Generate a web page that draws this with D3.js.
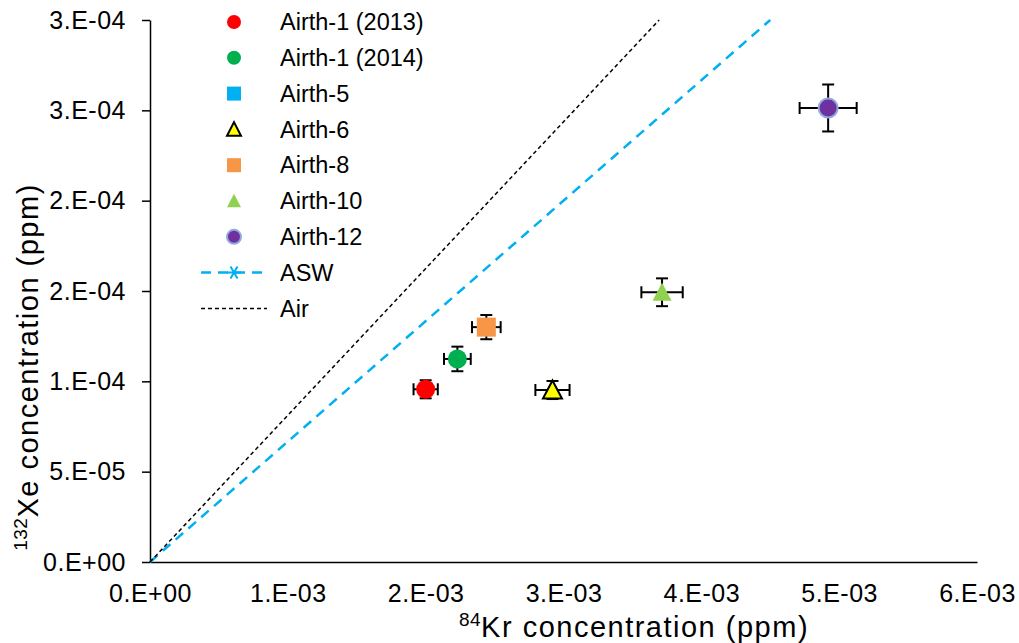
<!DOCTYPE html>
<html lang="en">
  <head>
    <meta charset="UTF-8" />
    <title>Kr vs Xe</title>
    <script src="https://d3js.org/d3.v7.min.js"></script>
    <style>
      body { margin: 0; background: #fff; }
      text { font-family: "Liberation Sans", Arial, sans-serif; }
    </style>
  </head>
  <body>
    <div id="chart"></div>
  </body>
</html>

<script>
  // samples
  const samples = ["Airth-1 (2013)", "Airth-1 (2014)", "Airth-5", "Airth-6", "Airth-8", "Airth-10", "Airth-12"]
  const krValues = [2.0e-3, 2.23e-3, null, 2.92e-3, 2.44e-3, 3.715e-3, 4.92e-3]
  const xeValues = [9.56e-5, 1.124e-4, null, 9.52e-5, 1.3e-4, 1.493e-4, 2.513e-4]
  const krErrors = [8.8e-5, 9.7e-5, null, 1.24e-4, 1.04e-4, 1.5e-4, 2.07e-4]
  const xeErrors = [5e-6, 6.8e-6, null, 5e-6, 6.7e-6, 7.7e-6, 1.3e-5]
  const markerShapes = ["circle", "circle", "square", "triangle", "square", "triangle", "circle"]
  const markerFills = ["#FF0000", "#00B050", "#00B0F0", "#FFFF00", "#F79646", "#92D050", "#7030A0"]
  const markerStrokes = ["none", "none", "none", "#000", "none", "none", "#8FAADC"]

  // reference lines
  const aswKr = [0, 4.5e-3]
  const aswXe = [0, 3e-4]
  const airKr = [0, 3.694e-3]
  const airXe = [0, 3e-4]

  // ticks
  const xTicks = [0, 1e-3, 2e-3, 3e-3, 4e-3, 5e-3, 6e-3]
  const xTickLabels = ["0.E+00", "1.E-03", "2.E-03", "3.E-03", "4.E-03", "5.E-03", "6.E-03"]
  const yTicks = [0, 5e-5, 1e-4, 1.5e-4, 2e-4, 2.5e-4, 3e-4]
  const yTickLabels = ["0.E+00", "5.E-05", "1.E-04", "2.E-04", "2.E-04", "3.E-04", "3.E-04"]

  const width = 1019
  const height = 643

  const svg = d3
    .select("#chart")
    .append("svg")
    .attr("width", width)
    .attr("height", height)

  const x = d3.scaleLinear().domain([0, 6e-3]).range([150, 977])
  const y = d3.scaleLinear().domain([0, 3e-4]).range([562, 20])

  // axes
  const xAxis = svg
    .append("g")
    .attr("transform", `translate(0,${y(0)})`)
    .call(
      d3.axisBottom(x)
        .tickValues(xTicks)
        .tickSize(0)
        .tickPadding(22)
        .tickFormat((d, i) => xTickLabels[i])
    )
  xAxis.select(".domain").attr("stroke", "#000").attr("stroke-width", 1.5)
  xAxis.selectAll("text").attr("font-size", 25).attr("letter-spacing", 0.5).attr("fill", "#000")

  const yAxis = svg
    .append("g")
    .attr("transform", `translate(${x(0)},0)`)
    .call(
      d3.axisLeft(y)
        .tickValues(yTicks)
        .tickSizeInner(8)
        .tickSizeOuter(0)
        .tickPadding(16)
        .tickFormat((d, i) => yTickLabels[i])
    )
  yAxis.select(".domain").attr("stroke", "#000").attr("stroke-width", 1.5)
  yAxis.selectAll(".tick line").attr("stroke", "#000").attr("stroke-width", 1.5)
  yAxis.selectAll("text").attr("font-size", 25).attr("letter-spacing", 0.5).attr("fill", "#000")

  // axis titles
  const xTitle = svg
    .append("text")
    .attr("x", 634)
    .attr("y", 637)
    .attr("text-anchor", "middle")
    .attr("font-size", 29)
    .attr("letter-spacing", 1.5)
  xTitle.append("tspan").attr("font-size", 19).attr("letter-spacing", 0.5).attr("dy", -11).text("84")
  xTitle.append("tspan").attr("dy", 11).text("Kr concentration (ppm)")

  const yTitle = svg
    .append("text")
    .attr("transform", "translate(38,367) rotate(-90)")
    .attr("text-anchor", "middle")
    .attr("font-size", 29)
    .attr("letter-spacing", 1.5)
  yTitle.append("tspan").attr("font-size", 19).attr("letter-spacing", 0.5).attr("dy", -11).text("132")
  yTitle.append("tspan").attr("dy", 11).text("Xe concentration (ppm)")

  // reference lines
  const line = d3.line().x((d) => x(d[0])).y((d) => y(d[1]))

  svg
    .append("path")
    .datum(d3.zip(aswKr, aswXe))
    .attr("d", line)
    .attr("fill", "none")
    .attr("stroke", "#00B0F0")
    .attr("stroke-width", 2.5)
    .attr("stroke-dasharray", "10,7")

  svg
    .append("path")
    .datum(d3.zip(airKr, airXe))
    .attr("d", line)
    .attr("fill", "none")
    .attr("stroke", "#000")
    .attr("stroke-width", 1.5)
    .attr("stroke-dasharray", "4,3")

  function marker(g, shape, size, fill, stroke) {
    if (shape === "circle") {
      g.append("circle").attr("r", size / 2)
    } else if (shape === "square") {
      g.append("rect").attr("x", -size / 2).attr("y", -size / 2).attr("width", size).attr("height", size)
    } else {
      const h = size * 0.9
      g.append("path").attr("d", `M0,${-h / 2 - 1}L${size / 2},${h / 2}L${-size / 2},${h / 2}Z`)
    }
    g.select(":first-child")
      .attr("fill", fill)
      .attr("stroke", stroke)
      .attr("stroke-width", stroke === "none" ? 0 : 2)
  }

  // data points with error bars
  const points = samples
    .map((s, i) => ({ i, kr: krValues[i], xe: xeValues[i], ekr: krErrors[i], exe: xeErrors[i] }))
    .filter((d) => d.kr !== null)

  const cap = 6
  const bars = svg.append("g").attr("stroke", "#000").attr("stroke-width", 2)
  points.forEach((d) => {
    const cx = x(d.kr), cy = y(d.xe)
    const x0 = x(d.kr - d.ekr), x1 = x(d.kr + d.ekr)
    const y0 = y(d.xe - d.exe), y1 = y(d.xe + d.exe)
    bars.append("line").attr("x1", x0).attr("x2", x1).attr("y1", cy).attr("y2", cy)
    bars.append("line").attr("x1", x0).attr("x2", x0).attr("y1", cy - cap).attr("y2", cy + cap)
    bars.append("line").attr("x1", x1).attr("x2", x1).attr("y1", cy - cap).attr("y2", cy + cap)
    bars.append("line").attr("x1", cx).attr("x2", cx).attr("y1", y0).attr("y2", y1)
    bars.append("line").attr("x1", cx - cap).attr("x2", cx + cap).attr("y1", y0).attr("y2", y0)
    bars.append("line").attr("x1", cx - cap).attr("x2", cx + cap).attr("y1", y1).attr("y2", y1)
  })

  points.forEach((d) => {
    const g = svg.append("g").attr("transform", `translate(${x(d.kr)},${y(d.xe)})`)
    marker(g, markerShapes[d.i], 19, markerFills[d.i], markerStrokes[d.i])
  })

  // legend
  const legend = svg.append("g")
  const rowH = 35.8
  samples.forEach((s, i) => {
    const row = legend.append("g").attr("transform", `translate(234,${22 + i * rowH})`)
    marker(row.append("g"), markerShapes[i], 14, markerFills[i], markerStrokes[i])
    row.append("text").attr("x", 46).attr("dy", "0.35em").attr("font-size", 23.5).text(s)
  })

  const aswRow = legend.append("g").attr("transform", `translate(234,${22 + 7 * rowH})`)
  aswRow.append("line").attr("x1", -33).attr("x2", 33)
    .attr("stroke", "#00B0F0").attr("stroke-width", 2.5).attr("stroke-dasharray", "10,7")
  aswRow.append("path")
    .attr("d", "M-7,0H7M-3.5,-6L3.5,6M-3.5,6L3.5,-6")
    .attr("stroke", "#00B0F0").attr("stroke-width", 2)
  aswRow.append("text").attr("x", 46).attr("dy", "0.35em").attr("font-size", 23.5).text("ASW")

  const airRow = legend.append("g").attr("transform", `translate(234,${22 + 8 * rowH})`)
  airRow.append("line").attr("x1", -33).attr("x2", 33)
    .attr("stroke", "#000").attr("stroke-width", 1.5).attr("stroke-dasharray", "4,3")
  airRow.append("text").attr("x", 46).attr("dy", "0.35em").attr("font-size", 23.5).text("Air")
</script>
